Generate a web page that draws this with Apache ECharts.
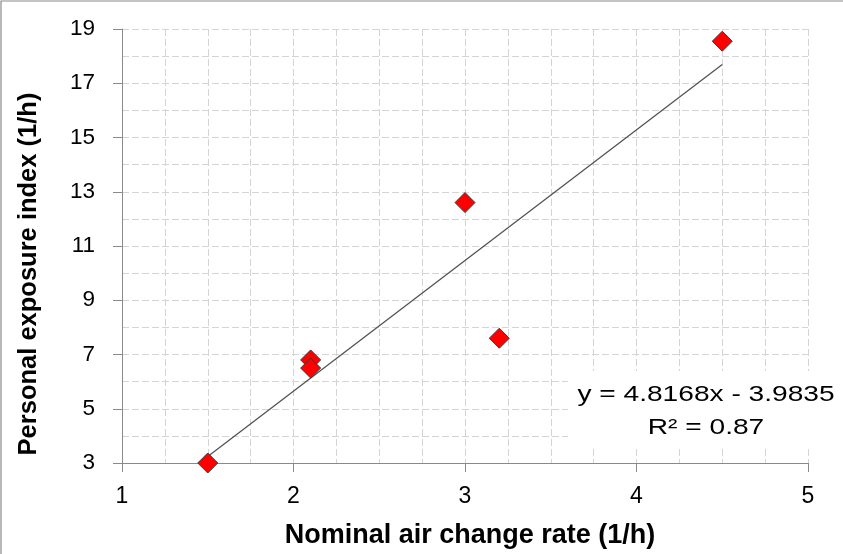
<!DOCTYPE html>
<html>
<head>
<meta charset="utf-8">
<script src="https://cdn.jsdelivr.net/npm/echarts@6/dist/echarts.min.js"></script>
<style>
  html, body { margin: 0; padding: 0; background: #ffffff; }
  #chart { width: 843px; height: 554px; }
</style>
</head>
<body>
<div id="chart"></div>
<script>
// Data
const airChangeRate = [1.5, 2.1, 2.1, 3.0, 3.2, 4.5];
const exposureIndex = [3.0, 6.8, 6.5, 12.6, 7.6, 18.55];
// Trendline as printed on the chart
const trendSlope = 4.8168;
const trendIntercept = -3.9835;
const trendText = ['y = 4.8168x - 3.9835', 'R\u00b2 = 0.87'];
const xTitle = 'Nominal air change rate (1/h)';
const yTitle = 'Personal exposure index (1/h)';

const points = airChangeRate.map((x, i) => [x, exposureIndex[i]]);
const xMin = Math.min(...airChangeRate);
const xMax = Math.max(...airChangeRate);
const trendLine = [xMin, xMax].map(x => [x, trendSlope * x + trendIntercept]);

const FONT = '"Liberation Sans", Arial, sans-serif';
const gridDash = { color: '#d4d4d4', width: 1, type: [7, 3] };
const axisGray = '#8a8a8a';

const chart = echarts.init(document.getElementById('chart'), null, { renderer: 'canvas' });
chart.setOption({
  animation: false,
  backgroundColor: '#ffffff',
  grid: { left: 122, right: 35, top: 29, bottom: 90, containLabel: false },
  xAxis: {
    type: 'value', min: 1, max: 5, interval: 1,
    name: xTitle, nameLocation: 'middle', nameGap: 59,
    nameTextStyle: { fontFamily: FONT, fontSize: 27, fontWeight: 'bold', color: '#000', padding: [0, 0, 0, 10] },
    axisLine: { show: true, onZero: false, lineStyle: { color: axisGray, width: 1 } },
    axisTick: { show: true, inside: false, length: 9, lineStyle: { color: axisGray, width: 1 } },
    axisLabel: { fontFamily: FONT, fontSize: 23, color: '#000', margin: 22 },
    splitLine: { show: true, lineStyle: gridDash },
    minorTick: { show: false, splitNumber: 4 },
    minorSplitLine: { show: true, lineStyle: gridDash }
  },
  yAxis: {
    type: 'value', min: 3, max: 19, interval: 2,
    name: yTitle, nameLocation: 'middle', nameGap: 80, nameRotate: 90,
    nameTextStyle: { fontFamily: FONT, fontSize: 25.5, fontWeight: 'bold', color: '#000', padding: [0, 56, 0, 0] },
    axisLine: { show: true, onZero: false, lineStyle: { color: axisGray, width: 1 } },
    axisTick: { show: true, inside: false, length: 9, lineStyle: { color: axisGray, width: 1 } },
    axisLabel: { fontFamily: FONT, fontSize: 22.5, color: '#000', margin: 27 },
    splitLine: { show: true, lineStyle: gridDash },
    minorTick: { show: false, splitNumber: 2 },
    minorSplitLine: { show: true, lineStyle: gridDash }
  },
  graphic: [
    { type: 'rect', z: 100, silent: true,
      shape: { x: 1, y: 1, width: 900, height: 600 },
      style: { fill: 'none', stroke: '#8a8a8a', lineWidth: 1.2 } },
    { type: 'rect', z: 101, silent: true,
      shape: { x: 568, y: 371, width: 275, height: 76 },
      style: { fill: '#ffffff', stroke: 'none' } },
    { type: 'text', z: 102, silent: true, x: 706, y: 395, scaleX: 1.25,
      style: { text: trendText[0], fontFamily: FONT, fontSize: 22.5, fill: '#000',
               align: 'center', verticalAlign: 'middle' } },
    { type: 'text', z: 102, silent: true, x: 706, y: 428, scaleX: 1.25,
      style: { text: trendText[1], fontFamily: FONT, fontSize: 22.5, fill: '#000',
               align: 'center', verticalAlign: 'middle' } }
  ],
  series: [
    {
      type: 'line', data: trendLine, showSymbol: false, symbol: 'none', z: 3,
      lineStyle: { color: '#505050', width: 1.2 }, silent: true
    },
    {
      type: 'scatter', data: points, symbol: 'diamond', symbolSize: [20, 20], z: 5,
      itemStyle: { color: '#ff0000', borderColor: '#3a3a3a', borderWidth: 1, opacity: 1 }
    }
  ]
});
</script>
</body>
</html>
